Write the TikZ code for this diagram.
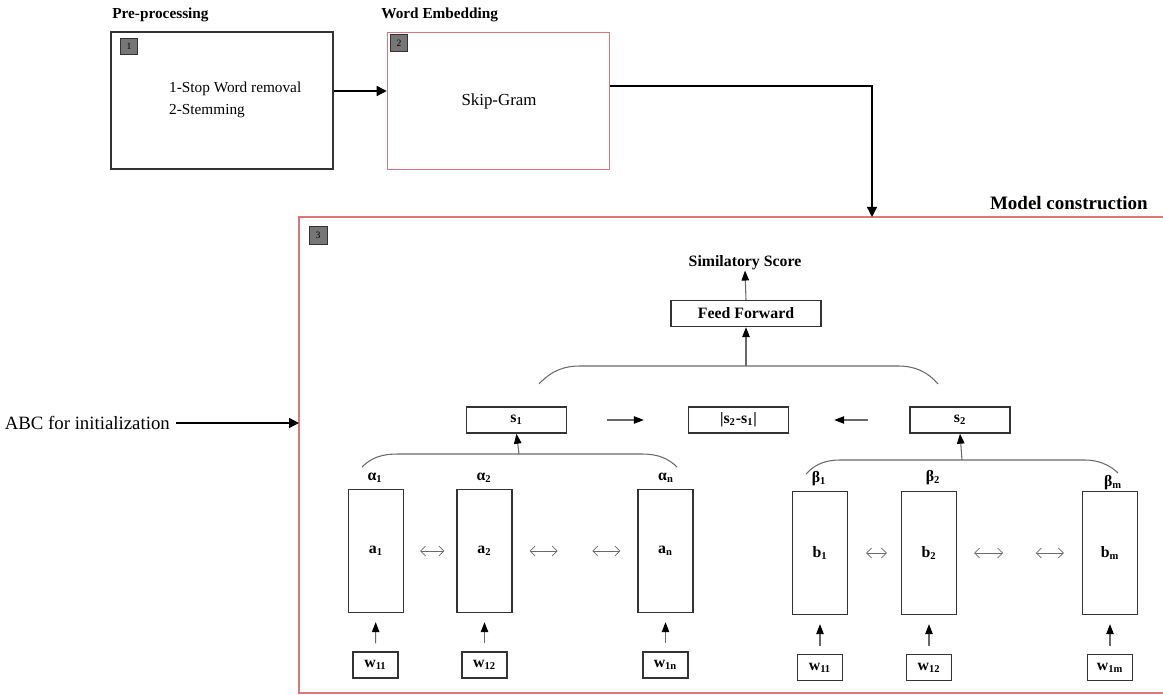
\documentclass[tikz,border=0pt]{standalone}
\usepackage{fontspec}
\setmainfont{Liberation Serif}
\usetikzlibrary{arrows.meta}
\definecolor{frameRed}{RGB}{224,118,118}
\definecolor{badgeGray}{RGB}{118,118,118}
\definecolor{stemGray}{RGB}{105,105,105}
\tikzset{
  stagebox/.style={draw=black!80, line width=0.9pt, minimum width=4.44cm, minimum height=2.74cm},
  badge/.style={draw=black!80, fill=badgeGray, line width=0.5pt, minimum size=0.33cm, inner sep=0pt, font=\fontsize{5.5}{6}\selectfont},
  title/.style={font=\fontsize{8.7}{10}\selectfont\bfseries, inner sep=0pt},
  cell/.style={draw=black!80, line width=0.8pt, inner sep=0pt, font=\fontsize{9}{10}\selectfont\bfseries},
  lstm/.style={cell, minimum width=1.1cm, minimum height=2.46cm},
  wordbox/.style={cell, minimum width=0.9cm, minimum height=0.52cm},
  sentbox/.style={cell, minimum width=2.0cm, minimum height=0.52cm},
  weight/.style={font=\fontsize{9}{10}\selectfont\bfseries, inner sep=0pt},
  flow/.style={line width=0.8pt, -{Triangle[length=0.2cm,width=0.2cm]}},
  upflow/.style={draw=stemGray, line width=0.6pt, -{Triangle[length=0.2cm,width=0.15cm,color=black]}},
  link/.style={draw=stemGray, line width=0.4pt, {Straight Barb[length=0.1cm,width=0.2cm]}-{Straight Barb[length=0.1cm,width=0.2cm]}},
  brace/.style={draw=stemGray, line width=0.6pt}
}
\begin{document}
\begin{tikzpicture}[x=0.02cm, y=-0.02cm]
    \useasboundingbox (0,0) rectangle (1163,695);

    % Stage titles
    \node [title, anchor=west] (preTitle) at (112,15) {Pre-processing};
    \node [title, anchor=west] (embTitle) at (381,15) {Word Embedding};
    \node [title, font=\fontsize{10.8}{12}\selectfont\bfseries, anchor=east] (modelTitle) at (1148,203) {Model construction};

    % Pre-processing and embedding stages
    \node [stagebox] (prep) at (222,100.5) {};
    \node [stagebox, draw=frameRed] (emb) at (498.5,101) {};
    \node [badge] (badgeA) at (129,46.5) {1};
    \node [badge] (badgeB) at (399,43) {2};
    \node [anchor=west, align=left, font=\fontsize{8.7}{12.5}\selectfont] (prepText) at (163,100) {1-Stop Word removal\\2-Stemming};
    \node [font=\fontsize{9.6}{11}\selectfont] (skipText) at (499,101) {Skip-Gram};
    \draw [flow] ([yshift=0.19cm]prep.east) -- ([yshift=0.19cm]prep.east -| emb.west);

    % Model construction frame
    \coordinate (frameTop) at (872,217);
    \coordinate (frameLeft) at (299,423);
    \draw [frameRed, line width=0.9pt] (1163,217) -- (299,217) -- (299,693) -- (1163,693);
    \node [badge, minimum size=0.36cm] (badgeC) at (318,235) {3};
    \draw [flow] ([yshift=0.3cm]emb.east) -| (frameTop);
    \node [anchor=east, font=\fontsize{10.7}{12}\selectfont] (abc) at (176,423) {ABC for initialization};
    \draw [flow] (abc.east) -- (frameLeft);

    % Output part
    \node [weight] (score) at (745,263) {Similatory Score};
    \node [sentbox, minimum width=3cm] (ff) at (746,313.5) {Feed Forward};
    \draw [upflow] (ff.north) -- (score.south);
    \coordinate (topJoin) at (746,366);
    \draw [brace] (539,384) .. controls (552,370) and (565,366) .. (580,366) -- (898,366) .. controls (915,366) and (928,372) .. (938,384);
    \draw [upflow] (topJoin) -- (ff.south);

    % Sentence vectors
    \node [sentbox] (s1) at (516.5,420) {s\textsubscript{1}};
    \node [sentbox] (diff) at (738.5,420) {|s\textsubscript{2}-s\textsubscript{1}|};
    \node [sentbox] (s2) at (960,420) {s\textsubscript{2}};
    \draw [upflow] ([xshift=0.8cm]s1.east) -- ([xshift=-0.88cm]diff.west);
    \draw [upflow] ([xshift=-0.82cm]s2.west) -- ([xshift=0.9cm]diff.east);

    % Attention braces
    \coordinate (leftJoin) at (519,454);
    \draw [brace] (362,467) .. controls (372,457) and (383,454) .. (398,454) -- (642,454) .. controls (657,454) and (668,458) .. (677,467);
    \draw [upflow] (leftJoin) -- (s1.south);
    \coordinate (rightJoin) at (962,460);
    \draw [brace] (806,474) .. controls (815,464) and (826,460) .. (840,460) -- (1085,460) .. controls (1098,460) and (1110,465) .. (1118,473);
    \draw [upflow] (rightJoin) -- (s2.south);

    % Hidden states
    \node [lstm] (a1) at (376,551) {a\textsubscript{1}};
    \node [lstm] (a2) at (484.5,551) {a\textsubscript{2}};
    \node [lstm] (an) at (665.5,551) {a\textsubscript{n}};
    \node [lstm] (b1) at (820,553) {b\textsubscript{1}};
    \node [lstm] (b2) at (929,553) {b\textsubscript{2}};
    \node [lstm] (bm) at (1110,553) {b\textsubscript{m}};

    % Weights
    \node [weight] (alpha1) at (375,478) {α\textsubscript{1}};
    \node [weight] (alpha2) at (484,478) {α\textsubscript{2}};
    \node [weight] (alphan) at (666,478) {α\textsubscript{n}};
    \node [weight] (beta1) at (819,479) {β\textsubscript{1}};
    \node [weight] (beta2) at (933,478) {β\textsubscript{2}};
    \node [weight] (betam) at (1113,483) {β\textsubscript{m}};

    % Links between states
    \draw [link] ([xshift=0.32cm]a1.east) -- ([xshift=-0.24cm]a2.west);
    \draw [link] ([xshift=0.34cm]a2.east) -- ([xshift=0.9cm]a2.east);
    \draw [link] ([xshift=-0.9cm]an.west) -- ([xshift=-0.34cm]an.west);
    \draw [link] ([xshift=0.36cm]b1.east) -- ([xshift=-0.28cm]b2.west);
    \draw [link] ([xshift=0.34cm]b2.east) -- ([xshift=0.92cm]b2.east);
    \draw [link] ([xshift=-0.92cm]bm.west) -- ([xshift=-0.36cm]bm.west);

    % Word inputs
    \node [wordbox] (wa1) at (375.5,665) {w\textsubscript{11}};
    \node [wordbox] (wa2) at (484.5,665) {w\textsubscript{12}};
    \node [wordbox] (wan) at (665.5,665) {w\textsubscript{1n}};
    \node [wordbox] (wb1) at (820,667.5) {w\textsubscript{11}};
    \node [wordbox] (wb2) at (929,667.5) {w\textsubscript{12}};
    \node [wordbox] (wbm) at (1110,667.5) {w\textsubscript{1m}};
    \draw [upflow, shorten <=0.16cm, shorten >=0.18cm] (wa1) -- (a1);
    \draw [upflow, shorten <=0.16cm, shorten >=0.18cm] (wa2) -- (a2);
    \draw [upflow, shorten <=0.16cm, shorten >=0.18cm] (wan) -- (an);
    \draw [upflow, shorten <=0.16cm, shorten >=0.18cm] (wb1) -- (b1);
    \draw [upflow, shorten <=0.16cm, shorten >=0.18cm] (wb2) -- (b2);
    \draw [upflow, shorten <=0.16cm, shorten >=0.18cm] (wbm) -- (bm);
\end{tikzpicture}
\end{document}
